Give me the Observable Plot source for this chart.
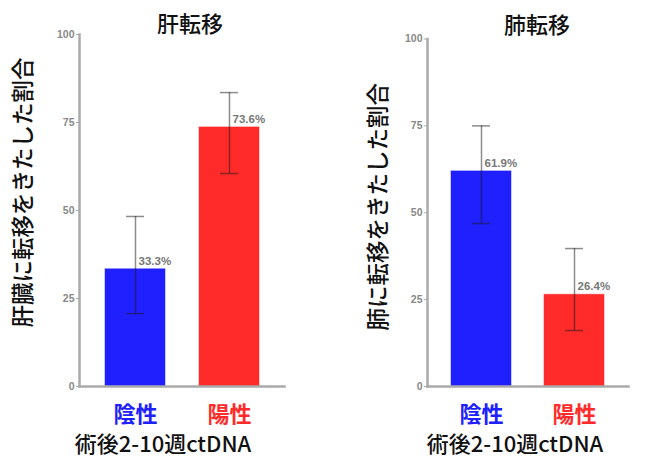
<!DOCTYPE html>
<html>
<head>
<meta charset="utf-8">
<script src="https://cdn.jsdelivr.net/npm/d3@7"></script>
<script src="https://cdn.jsdelivr.net/npm/@observablehq/plot@0.6"></script>
<style>
  html, body { margin: 0; padding: 0; background: #fff; }
  #wrap { position: relative; width: 672px; height: 462px; overflow: hidden; }
  #wrap svg { position: absolute; top: 0; }
</style>
</head>
<body>
<div id="wrap"></div>
<script>
const categories = ["陰性", "陽性"];
const categoryColors = ["#2020ff", "#ff2a2a"];
const panelTitles = ["肝転移", "肺転移"];
const yLabels = ["肝臓に転移をきたした割合", "肺に転移をきたした割合"];
const xLabel = "術後2-10週ctDNA";
const yTicks = [0, 25, 50, 75, 100];
const liverValues = [33.3, 73.6];
const liverLow = [20.7, 60.5];
const liverHigh = [48.3, 83.5];
const lungValues = [61.9, 26.4];
const lungLow = [46.9, 16.1];
const lungHigh = [75.0, 39.7];

const CJK = "'Noto Sans CJK JP', 'Noto Sans', sans-serif";
const NUM = "'Liberation Sans', Arial, sans-serif";

function panel(cfg) {
  const rows = categories.map((c, i) => ({
    cat: c, value: cfg.values[i], lo: cfg.low[i], hi: cfg.high[i], color: categoryColors[i]
  }));
  const svg = Plot.plot({
    width: 336,
    height: 462,
    marginLeft: cfg.ml,
    marginRight: cfg.mr,
    marginTop: cfg.mt,
    marginBottom: 76,
    style: { background: "transparent", overflow: "visible" },
    x: { domain: categories, paddingInner: cfg.pi, paddingOuter: cfg.po, axis: null },
    y: { domain: [0, 100], axis: null },
    marks: [
      Plot.barY(rows, { x: "cat", y: "value", fill: "color", stroke: "color", strokeOpacity: 0.5, strokeWidth: 1 }),
      Plot.ruleX(rows, { x: "cat", y1: "lo", y2: "hi", stroke: "#1a1a1a", strokeOpacity: 0.5, strokeWidth: 1.5 }),
      Plot.tickY(rows, { x: "cat", y: "hi", stroke: "#1a1a1a", strokeOpacity: 0.5, strokeWidth: 1.5, insetLeft: 21, insetRight: 21 }),
      Plot.tickY(rows, { x: "cat", y: "lo", stroke: "#1a1a1a", strokeOpacity: 0.5, strokeWidth: 1.5, insetLeft: 21, insetRight: 21 }),
      Plot.text(rows, { x: "cat", y: "value", text: d => d.value.toFixed(1) + "%", textAnchor: "start", dx: cfg.vdx, dy: -8,
        fill: "#777", fontSize: 11.5, fontWeight: "bold", fontFamily: NUM }),
      Plot.frame({ anchor: "left", stroke: "#aaa", strokeWidth: 2.5 }),
      Plot.frame({ anchor: "bottom", stroke: "#aaa", strokeWidth: 2.5 }),
      Plot.axisY(yTicks, { ticks: yTicks, tickSize: 3, tickPadding: 2, stroke: "#aaa", fill: "#888", fontSize: 10.5, fontWeight: "bold", fontFamily: NUM, label: null }),
      Plot.text(categories, { x: d => d, frameAnchor: "bottom", lineAnchor: "middle", dy: 28, text: d => d,
        fill: (d, i) => categoryColors[i], fontSize: 22, fontWeight: "bold", fontFamily: CJK }),
      Plot.text([xLabel], { frameAnchor: "bottom", lineAnchor: "middle", textAnchor: "middle", dy: 58, dx: cfg.xdx, text: d => d,
        fill: "#111", fontSize: 22, fontWeight: 500, fontFamily: CJK }),
      Plot.text([cfg.title], { frameAnchor: "top", lineAnchor: "middle", textAnchor: "middle", dy: cfg.tdy, dx: cfg.tdx, text: d => d,
        fill: "#111", fontSize: 22, fontWeight: 500, fontFamily: CJK }),
      Plot.text([cfg.ylabel], { frameAnchor: "left", lineAnchor: "middle", textAnchor: "middle", dx: cfg.ydx, dy: cfg.ydy, rotate: -90, text: d => d,
        fill: "#111", fontSize: 22.5, fontWeight: 500, fontFamily: CJK })
    ]
  });
  svg.style.left = cfg.left + "px";
  document.getElementById("wrap").appendChild(svg);
}

panel({ left: 0, ml: 79, mr: 52, mt: 34, pi: 0.362, po: 0.271, values: liverValues, low: liverLow, high: liverHigh,
  title: panelTitles[0], ylabel: yLabels[0], vdx: 3, xdx: -19, tdx: 8, tdy: -10, ydx: -56, ydy: -18 });
panel({ left: 336, ml: 91, mr: 44, mt: 38.5, pi: 0.355, po: 0.258, values: lungValues, low: lungLow, high: lungHigh,
  title: panelTitles[1], ylabel: yLabels[1], vdx: 3, xdx: -13, tdx: 9, tdy: -13.5, ydx: -49, ydy: -6 });
</script>
</body>
</html>
